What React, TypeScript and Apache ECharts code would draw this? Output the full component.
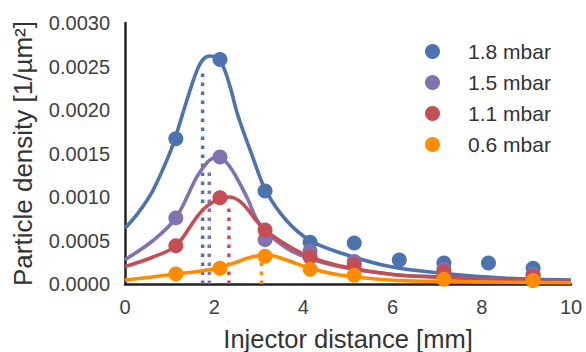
import React, { useEffect, useRef } from "react";
import * as echarts from "echarts";

// Measured points (injector distance in mm)
const xLong = [1.14, 2.13, 3.14, 4.15, 5.14, 6.15, 7.15, 8.15, 9.15];
const xShort = [1.14, 2.13, 3.14, 4.15, 5.14, 7.15, 9.15];

const names = ["1.8 mbar", "1.5 mbar", "1.1 mbar", "0.6 mbar"];
const colors = ["#4C72B0", "#8172B2", "#C44E52", "#FF8C00"];

const pts18 = [0.00167, 0.00258, 0.00107, 0.00048, 0.00047, 0.000275, 0.00024, 0.00024, 0.00018];
const pts15 = [0.00076, 0.00146, 0.00051, 0.00038, 0.00026, 0.00017, 0.00011];
const pts11 = [0.00044, 0.00099, 0.00062, 0.00031, 0.00022, 0.00014, 0.00009];
const pts06 = [0.000115, 0.00018, 0.00032, 0.00017, 0.0001, 0.000055, 0.00004];

// Fitted curves
const fit18x = [0, 0.3, 0.63, 1.0, 1.14, 1.38, 1.61, 1.75, 1.9, 2.05, 2.2, 2.35, 2.53, 2.87, 3.16, 3.62, 4.15, 4.82, 5.94, 7.06, 8.56, 10];
const fit18y = [0.00064, 0.00082, 0.00108, 0.0015, 0.0017, 0.0021, 0.00245, 0.00258, 0.00262, 0.0026, 0.0025, 0.00228, 0.00194, 0.00145, 0.00107, 0.00073, 0.0005, 0.00036, 0.0002, 0.000126, 0.000065, 0.000046];

const fit15x = [0, 0.63, 1.14, 1.61, 1.8, 1.95, 2.1, 2.25, 2.45, 2.73, 3.03, 3.6, 4.15, 5, 6, 7, 8.5, 10];
const fit15y = [0.00028, 0.0005, 0.00076, 0.00123, 0.00137, 0.00144, 0.00145, 0.00141, 0.00127, 0.001, 0.00068, 0.00042, 0.00029, 0.00018, 0.00011, 0.00008, 0.00005, 0.00003];

const fit11x = [0, 0.63, 1.14, 1.61, 1.85, 2.13, 2.35, 2.55, 2.73, 3.1, 3.62, 4.15, 4.8, 6, 7, 8.5, 10];
const fit11y = [0.0002, 0.00031, 0.00044, 0.00077, 0.0009, 0.00098, 0.001, 0.00096, 0.00087, 0.00064, 0.00045, 0.00031, 0.00021, 0.00011, 0.00008, 0.00005, 0.00003];

const fit06x = [0, 0.6, 1.14, 1.7, 2.13, 2.5, 2.8, 3.18, 3.62, 4.15, 4.82, 5.94, 7, 8.5, 10];
const fit06y = [0.000046, 0.00008, 0.000115, 0.00015, 0.00019, 0.00025, 0.000305, 0.000333, 0.000276, 0.00018, 0.000103, 0.000046, 0.00003, 0.00002, 0.000015];

// Peak-position markers (dotted verticals)
const peakX = [1.74, 1.89, 2.33, 3.06];
const peakTop = [0.00243, 0.00132, 0.00087, 0.0003];

const FONT = "'Liberation Sans', Arial, sans-serif";

function zip(xs: number[], ys: number[]) {
  return xs.map((x, i) => [x, ys[i]]);
}

export default function App() {
  const ref = useRef<HTMLDivElement>(null);
  useEffect(() => {
    if (!ref.current) return;
    const chart = echarts.init(ref.current, undefined, { renderer: "svg" });
    const pts = [zip(xLong, pts18), zip(xShort, pts15), zip(xShort, pts11), zip(xShort, pts06)];
    const fits = [zip(fit18x, fit18y), zip(fit15x, fit15y), zip(fit11x, fit11y), zip(fit06x, fit06y)];

    const series: any[] = [];
    peakX.forEach((px, i) => {
      series.push({
        type: "line",
        name: names[i] + " peak",
        data: [[px, 0], [px, peakTop[i]]],
        showSymbol: false,
        symbol: "none",
        silent: true,
        lineStyle: { color: colors[i], width: 3.5, type: [3.5, 5.5], cap: "butt" },
        z: 1,
      });
    });
    for (let i = 0; i < 4; i++) {
      series.push({
        type: "line",
        name: names[i] + " fit",
        data: fits[i],
        smooth: 0.35,
        symbol: "none",
        showSymbol: false,
        lineStyle: { color: colors[i], width: 3.6 },
        z: 2,
      });
      series.push({
        type: "scatter",
        name: names[i],
        data: pts[i],
        symbol: "circle",
        symbolSize: 15,
        itemStyle: { color: colors[i], opacity: 1 },
        z: 2,
      });
    }

    chart.setOption({
      animation: false,
      backgroundColor: "#ffffff",
      textStyle: { fontFamily: FONT },
      grid: { left: 125, right: 15, top: 23, bottom: 68, containLabel: false, outerBoundsMode: "none" },
      legend: {
        data: names,
        orient: "vertical",
        left: 420,
        top: 36,
        icon: "circle",
        itemWidth: 15,
        itemHeight: 15,
        itemGap: 10,
        textStyle: { fontSize: 21, color: "#333333", fontFamily: FONT, lineHeight: 20, padding: [0, 0, 0, 23] },
      },
      xAxis: {
        type: "value",
        min: 0,
        max: 10,
        interval: 2,
        name: "Injector distance [mm]",
        nameLocation: "middle",
        nameGap: 42,
        nameTextStyle: { fontSize: 25.5, color: "#333333", fontFamily: FONT },
        axisLine: { show: true, lineStyle: { color: "#222222", width: 2.5 } },
        axisTick: { show: false },
        splitLine: { show: false },
        axisLabel: { fontSize: 20, color: "#404040", margin: 13, fontFamily: FONT },
      },
      yAxis: {
        type: "value",
        min: 0,
        max: 0.003,
        interval: 0.0005,
        name: "Particle density [1/µm²]",
        nameLocation: "middle",
        nameGap: 89,
        nameTextStyle: { fontSize: 26, color: "#333333", fontFamily: FONT },
        axisLine: { show: true, onZero: false, lineStyle: { color: "#222222", width: 2.5 } },
        axisTick: { show: false },
        splitLine: { show: false },
        axisLabel: {
          fontSize: 20,
          color: "#404040",
          margin: 15,
          fontFamily: FONT,
          formatter: (v: number) => v.toFixed(4),
        },
      },
      series,
    });
    return () => chart.dispose();
  }, []);
  return <div ref={ref} style={{ position: "fixed", left: 0, top: 0, width: 586, height: 352 }} />;
}
